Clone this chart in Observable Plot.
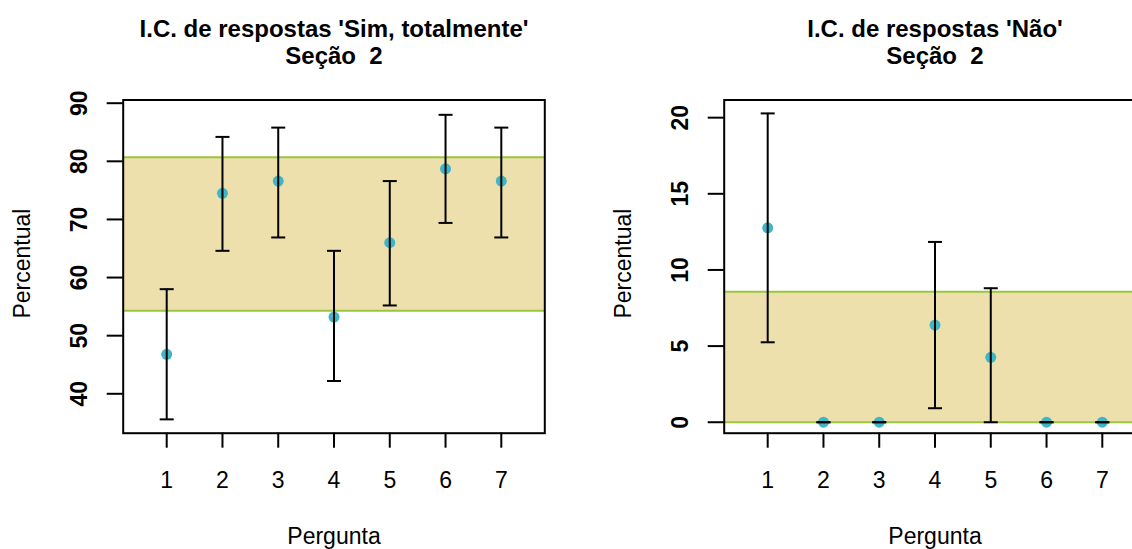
<!DOCTYPE html>
<html>
<head>
<meta charset="utf-8">
<script src="https://cdn.jsdelivr.net/npm/d3@7"></script>
<script src="https://cdn.jsdelivr.net/npm/@observablehq/plot@0.6"></script>
<style>
  html, body { margin: 0; padding: 0; background: #fff; overflow: hidden; }
  #wrap { position: relative; width: 1132px; height: 549px; overflow: hidden; background: #fff; }
  .panel { position: absolute; top: 0; width: 566px; height: 549px; }
</style>
</head>
<body>
<div id="wrap">
  <div class="panel" id="p1" style="left:0px"></div>
  <div class="panel" id="p2" style="left:601px"></div>
</div>
<script>
// ---- data ----
const perguntas = [1, 2, 3, 4, 5, 6, 7];
const xTicks = [1, 2, 3, 4, 5, 6, 7];

const simTitle = "I.C. de respostas 'Sim, totalmente'";
const simPct = [46.8, 74.5, 76.6, 53.2, 66.0, 78.7, 76.6];
const simLo  = [35.6, 64.6, 66.9, 42.2, 55.2, 69.4, 66.9];
const simHi  = [58.0, 84.2, 85.8, 64.6, 76.6, 88.0, 85.8];
const simBand = [54.3, 80.7];
const simTicks = [40, 50, 60, 70, 80, 90];

const naoTitle = "I.C. de respostas 'Não'";
const naoPct = [12.77, 0, 0, 6.38, 4.26, 0, 0];
const naoLo  = [5.25, 0, 0, 0.92, 0, 0, 0];
const naoHi  = [20.28, 0, 0, 11.84, 8.8, 0, 0];
const naoBand = [0, 8.57];
const naoTicks = [0, 5, 10, 15, 20];

const subtitle = "Seção  2";
const xLabel = "Pergunta";
const yLabel = "Percentual";

// ---- drawing ----
const capSymbol = {
  draw(ctx, size) {
    const r = Math.sqrt(size / Math.PI);
    ctx.moveTo(-r, 0);
    ctx.lineTo(r, 0);
  }
};

function panel({title, pct, lo, hi, band, yDomain, yTicks}) {
  const rows = perguntas.map((p, i) => ({p, v: pct[i], lo: lo[i], hi: hi[i]}));
  return Plot.plot({
    width: 566,
    height: 549,
    marginTop: 99.5,
    marginBottom: 116.3,
    marginLeft: 122.7,
    marginRight: 21.7,
    style: {fontFamily: "'Liberation Sans', Arial, sans-serif", fontSize: "22px", background: "white", overflow: "visible", color: "black"},
    x: {domain: [0.22, 7.78], axis: null},
    y: {domain: yDomain, axis: null},
    marks: [
      Plot.rect([band], {y1: d => d[0], y2: d => d[1], fill: "#EEE0AC"}),
      Plot.ruleY(band, {y: d => d, stroke: "#9AC63F", strokeWidth: 2}),
      Plot.dot(rows, {x: "p", y: "v", r: 5.5, fill: "#3FB5C6", stroke: "none"}),
      Plot.ruleX(rows, {x: "p", y1: "lo", y2: "hi", stroke: "black", strokeWidth: 2}),
      Plot.dot(rows, {x: "p", y: "lo", symbol: capSymbol, r: 7, stroke: "black", strokeWidth: 2, fill: "none"}),
      Plot.dot(rows, {x: "p", y: "hi", symbol: capSymbol, r: 7, stroke: "black", strokeWidth: 2, fill: "none"}),
      Plot.frame({stroke: "black", strokeWidth: 2}),
      Plot.axisY({ticks: yTicks, tickSize: 16, tickFormat: () => "", label: null, strokeWidth: 2}),
      Plot.axisX({ticks: xTicks, tickSize: 15, tickFormat: () => "", label: null, strokeWidth: 2}),
      Plot.text(yTicks, {y: d => d, text: d => String(d), frameAnchor: "left", dx: -44, rotate: -90,
        textAnchor: "middle", lineAnchor: "middle", fontSize: 23, fontWeight: "bold"}),
      Plot.text(xTicks, {x: d => d, text: d => String(d), frameAnchor: "bottom", dy: 47,
        textAnchor: "middle", lineAnchor: "middle", fontSize: 23}),
      Plot.text([xLabel], {text: d => d, frameAnchor: "bottom", dy: 103, lineAnchor: "middle", fontSize: 23}),
      Plot.text([yLabel], {text: d => d, frameAnchor: "left", dx: -101, dy: -3, rotate: -90,
        textAnchor: "middle", lineAnchor: "middle", fontSize: 23}),
      Plot.text([title], {text: d => d, frameAnchor: "top", dy: -71, lineAnchor: "middle", fontSize: 24, fontWeight: "bold"}),
      Plot.text([subtitle], {text: d => d, frameAnchor: "top", dy: -44, lineAnchor: "middle", fontSize: 24, fontWeight: "bold"})
    ]
  });
}

document.getElementById("p1").appendChild(panel({
  title: simTitle, pct: simPct, lo: simLo, hi: simHi, band: simBand,
  yDomain: [33.22, 90.55], yTicks: simTicks
}));
document.getElementById("p2").appendChild(panel({
  title: naoTitle, pct: naoPct, lo: naoLo, hi: naoHi, band: naoBand,
  yDomain: [-0.72, 21.16], yTicks: naoTicks
}));
</script>
</body>
</html>
